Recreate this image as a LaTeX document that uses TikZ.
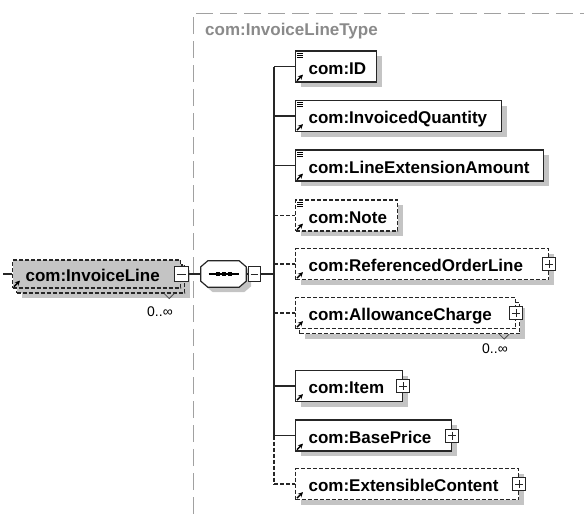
\documentclass[tikz,border=0pt]{standalone}
\usepackage{fontspec}
\setmainfont{Liberation Sans}
\usetikzlibrary{arrows.meta,shadows}
\definecolor{shadegray}{HTML}{C4C4C4}
\definecolor{typegray}{HTML}{8A8A8A}
\tikzset{%
  conn/.style={draw=black!85, line width=1.2pt},
  optconn/.style={conn, dash pattern=on 4pt off 2pt},
  elembase/.style={draw=black!85, line width=1.2pt, fill=white,
    minimum height=31pt, inner xsep=13pt, inner ysep=0pt,
    text height=15pt, text depth=0pt, align=left, anchor=west,
    font=\fontsize{17}{19}\selectfont\bfseries},
  dropgray/.style={drop shadow={shadow xshift=5pt, shadow yshift=-5pt,
    fill=shadegray, opacity=1}},
  elem/.style={elembase, dropgray},
  optelem/.style={elembase, dropgray, dash pattern=on 4pt off 2pt},
  optfront/.style={elembase, dash pattern=on 4pt off 2pt},
  pmbox/.style={draw=black!85, line width=1pt, fill=white,
    minimum width=13pt, minimum height=13pt, inner sep=0pt},
  plusbox/.style={pmbox, path picture={%
    \draw[line width=1pt] ([yshift=-2.5pt]path picture bounding box.north)
      -- ([yshift=2.5pt]path picture bounding box.south)
      ([xshift=2.5pt]path picture bounding box.west)
      -- ([xshift=-2.5pt]path picture bounding box.east);}},
  minusbox/.style={pmbox, path picture={%
    \draw[line width=1pt] ([xshift=2.5pt]path picture bounding box.west)
      -- ([xshift=-2.5pt]path picture bounding box.east);}},
  seqbox/.style={rectangle, draw=none, minimum width=45pt,
    minimum height=26pt, inner sep=0pt},
  occurs/.style={anchor=base west, inner sep=0pt,
    font=\fontsize{14}{16}\selectfont},
  refarrow/.style={-{Stealth[length=5pt,width=5pt]}, line width=1.5pt},
  notch/.style={draw=black!70, line width=0.8pt},
}

\begin{document}
\begin{tikzpicture}[x=1pt, y=-1pt]
\useasboundingbox (0,0) rectangle (584,514);
% complex type frame
\draw[typegray!80, line width=1pt, dash pattern=on 17pt off 7pt]
  (193,514) -- (193,13) -- (584,13);
\node[anchor=base west, inner sep=0pt, text=typegray,
  font=\fontsize{17}{19}\selectfont\bfseries] (typename) at (205,35)
  {com:InvoiceLineType};

% the repeated InvoiceLine element
\node[elembase, dropgray, fill=shadegray, dash pattern=on 4pt off 2pt,
  minimum height=28pt, text width=142pt] (ilback) at (16,279) {};
\node[optfront, fill=shadegray, minimum height=28pt, text width=142pt] (il)
  at (12,274) {\mbox{com:InvoiceLine}};
\draw[refarrow] ([shift={(2,-2)}]il.south west) -- ([shift={(8,-8)}]il.south west);
\node[minusbox, minimum width=14pt, minimum height=15pt] (ilminus) at (il.east) {};
\draw[notch] ([xshift=-21pt]ilback.south east) -- ([xshift=-16pt,yshift=-5pt]ilback.south east)
  -- ([xshift=-11pt]ilback.south east);
\node[occurs] (iloccurs) at (147,316) {0..∞};
\coordinate (stub) at (3,274);
\draw[conn] (stub) -- (il.west);

% sequence
\node[seqbox] (seq) at (223.5,274) {};
\foreach \dd/\fc/\dc in {5/shadegray/none, 0/white/black!85}
  \path[fill=\fc, draw=\dc, line width=1.2pt]
    ([shift={(7+\dd,\dd)}]seq.north west) -- ([shift={(-7+\dd,\dd)}]seq.north east)
    -- ([shift={(\dd,6+\dd)}]seq.north east) -- ([shift={(\dd,-6+\dd)}]seq.south east)
    -- ([shift={(-7+\dd,\dd)}]seq.south east) -- ([shift={(7+\dd,\dd)}]seq.south west)
    -- ([shift={(\dd,-6+\dd)}]seq.south west) -- ([shift={(\dd,6+\dd)}]seq.north west)
    -- cycle;
\draw[line width=1.2pt] ([xshift=-15pt]seq.center) -- ([xshift=15pt]seq.center);
\foreach \d in {-6,0,6}
  \fill ([xshift=\d pt]seq.center) +(-2,-2) rectangle +(2,2);
\node[minusbox, minimum width=12pt, minimum height=15pt] (seqminus) at (254,274) {};
\draw[conn] (ilminus.east) -- (seq.west);
\draw[conn] (seq.east) -- (seqminus.west);
\coordinate (bus) at (274,274);
\draw[conn] (seqminus.east) -- (bus);

% children
\foreach \n/\t/\y/\w/\s/\c/\k in {
  id/com:ID/66.5/81/elem/conn/1,
  invq/com:InvoicedQuantity/116/206/elem/conn/1,
  lea/com:LineExtensionAmount/165.5/248/elem/conn/1,
  note/com:Note/215.5/102/optelem/optconn/1,
  rol/com:ReferencedOrderLine/264/253/optelem/optconn/0,
  item/com:Item/386/107/elem/conn/0,
  bp/com:BasePrice/435.5/156/elem/conn/0,
  ec/com:ExtensibleContent/484/223/optelem/optconn/0}
{\pgfmathsetmacro\tw{\w-26}
 \node[\s, text width=\tw pt] (\n) at (295,\y) {\mbox{\t}};
 \draw[refarrow] ([shift={(2,-2)}]\n.south west) -- ([shift={(8,-8)}]\n.south west);
 \ifnum\k=1
  \foreach \e in {2.5,4.5,6.5}
   \draw[line width=0.8pt] ([shift={(2,\e)}]\n.north west) -- ([shift={(8,\e)}]\n.north west);
 \else
  \node[plusbox] (\n plus) at (\n.east) {};
 \fi
 \draw[\c] (\n.west -| bus) -- (\n.west);
}

% the repeated AllowanceCharge element
\node[optelem, text width=194pt] (acback) at (299,318) {};
\node[optfront, text width=194pt] (ac) at (295,313) {\mbox{com:AllowanceCharge}};
\draw[refarrow] ([shift={(2,-2)}]ac.south west) -- ([shift={(8,-8)}]ac.south west);
\node[plusbox] (acplus) at (ac.east) {};
\draw[notch] ([xshift=-21pt]acback.south east) -- ([xshift=-16pt,yshift=-5pt]acback.south east)
  -- ([xshift=-11pt]acback.south east);
\node[occurs] (acoccurs) at (482,353) {0..∞};
\draw[optconn] (ac.west -| bus) -- (ac.west);

\draw[conn] (id.west -| bus) -- (bp.west -| bus);
\draw[optconn] (bp.west -| bus) -- (ec.west -| bus);
\end{tikzpicture}
\end{document}
